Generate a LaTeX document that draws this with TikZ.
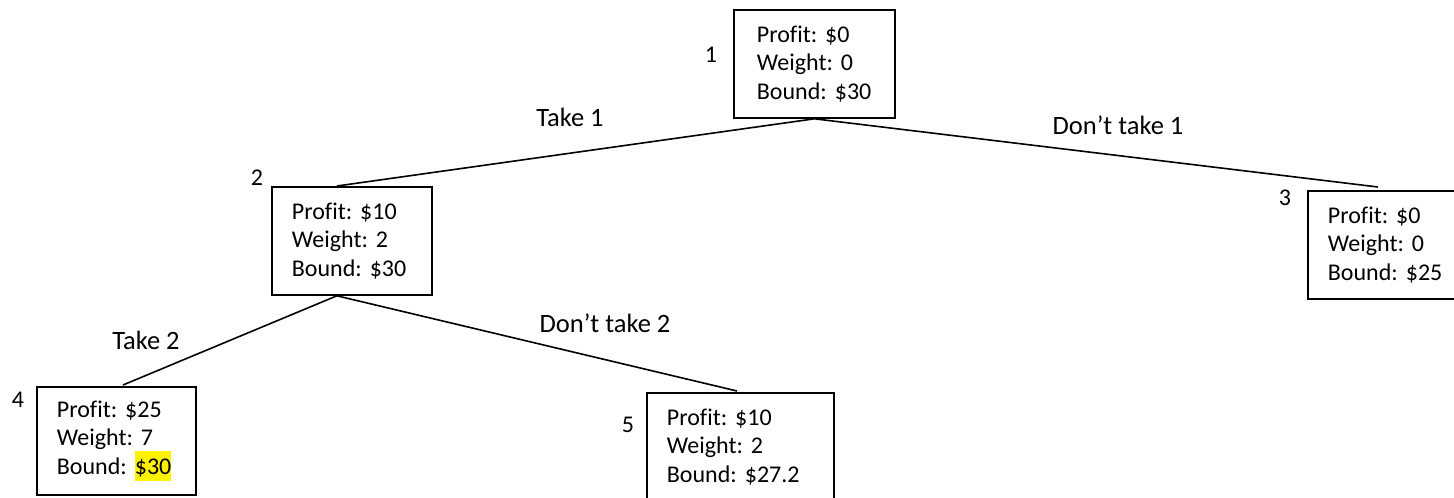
\documentclass[tikz,border=0pt]{standalone}
\usepackage{fontspec}
\setmainfont{Carlito}[Ligatures={TeX,NoCommon}]
\usetikzlibrary{calc}
\frenchspacing
% yellow text highlight
\newcommand\hlmark[1]{{\setlength{\fboxsep}{0pt}\colorbox{yellow}{\rule[-7pt]{0pt}{30pt}#1}}}
\begin{document}
\begin{tikzpicture}[x=1pt,y=-1pt,
  every node/.style={font=\fontsize{24}{28.5}\selectfont},
  statebox/.style={draw, line width=1.8pt, anchor=north west, align=left,
                   inner xsep=20pt, inner ysep=0pt, minimum height=108pt},
  edge/.style={line width=1.6pt},
  tag/.style={inner sep=0pt},
  branch/.style={inner sep=0pt, font=\fontsize{26.5}{30}\selectfont}]
\useasboundingbox (0,0) rectangle (1454,498);
\clip (0,0) rectangle (1454,498);

% state nodes of the search tree
\node[statebox, inner xsep=23pt, text width=115pt] (b1) at (733,9) {Profit: \$0\\Weight: 0\\Bound: \$30};
\node[statebox, text width=120pt] (b2) at (271,186) {Profit: \$10\\Weight: 2\\Bound: \$30};
\node[statebox, text width=130pt] (b3) at (1307,190) {Profit: \$0\\Weight: 0\\Bound: \$25};
\node[statebox, text width=119pt] (b4) at (36,386)  {Profit: \$25\\Weight: 7\\Bound: \hlmark{\$30}};
\node[statebox, text width=147pt] (b5) at (646,392) {Profit: \$10\\Weight: 2\\Bound: \$27.2};

% node numbers
\node[tag] (n1) at (711,55)  {1};
\node[tag] (n2) at (257,178) {2};
\node[tag] (n3) at (1285,198) {3};
\node[tag] (n4) at (18,400)  {4};
\node[tag] (n5) at (628,425) {5};

% branches
\coordinate (s2) at ($(b2.south)+(-15,0)$);
\draw[edge] (b1.south) -- ($(b2.north west)+(66,0)$);
\draw[edge] (b1.south) -- ($(b3.north west)+(71,-3)$);
\draw[edge] (s2) -- ($(b4.north west)+(87,-1)$);
\draw[edge] (s2) -- ($(b5.north west)+(91,-1)$);

% branch labels
\node[branch] (l1) at (570,117)  {Take 1};
\node[branch] (l2) at (1118,125) {Don’t take 1};
\node[branch] (l3) at (146,340)  {Take 2};
\node[branch] (l4) at (605,323)  {Don’t take 2};
\end{tikzpicture}
\end{document}
